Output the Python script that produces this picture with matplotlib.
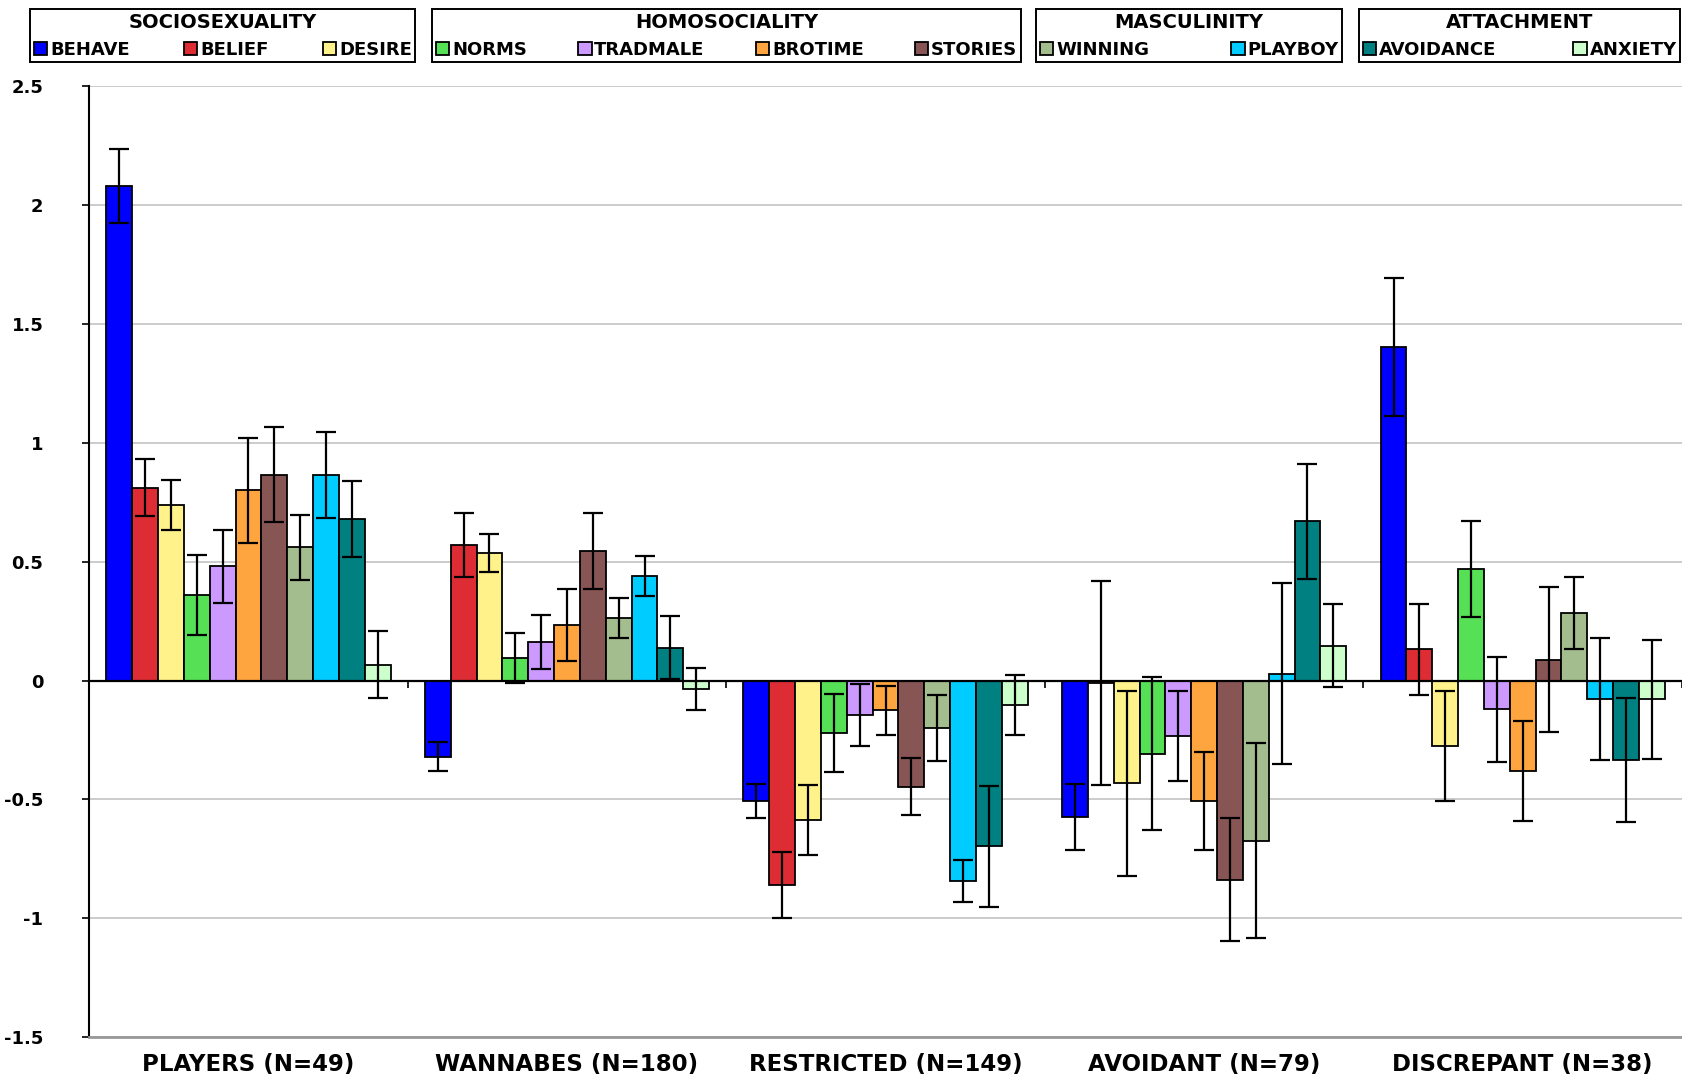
import numpy as np
import matplotlib.pyplot as plt
from matplotlib.patches import Patch

plt.rcParams['font.family'] = ['DejaVu Sans']
plt.rcParams['axes.unicode_minus'] = False

groups = ["PLAYERS (N=49)", "WANNABES (N=180)", "RESTRICTED (N=149)",
          "AVOIDANT (N=79)", "DISCREPANT (N=38)"]
series = ["BEHAVE", "BELIEF", "DESIRE", "NORMS", "TRADMALE", "BROTIME",
          "STORIES", "WINNING", "PLAYBOY", "AVOIDANCE", "ANXIETY"]
colors = ["#0000FF", "#DD2C33", "#FFF28A", "#55E055", "#CC99FF", "#FFA540",
          "#885555", "#A3BD8F", "#00CCFF", "#008080", "#CCFFCC"]

# legend blocks: (title, first series index, last series index + 1)
blocks = [("SOCIOSEXUALITY", 0, 3), ("HOMOSOCIALITY", 3, 7),
          ("MASCULINITY", 7, 9), ("ATTACHMENT", 9, 11)]

# means per group, in series order
players = [2.08, 0.81, 0.74, 0.36, 0.48, 0.80, 0.865, 0.56, 0.865, 0.68, 0.067]
wannabes = [-0.32, 0.57, 0.535, 0.094, 0.162, 0.234, 0.543, 0.263, 0.441, 0.139, -0.036]
restricted = [-0.507, -0.86, -0.587, -0.22, -0.146, -0.125, -0.447, -0.20, -0.843, -0.697, -0.102]
avoidant = [-0.574, -0.01, -0.432, -0.307, -0.234, -0.506, -0.837, -0.674, 0.029, 0.669, 0.147]
discrepant = [1.403, 0.131, -0.275, 0.469, -0.121, -0.379, 0.088, 0.285, -0.078, -0.334, -0.078]

# standard errors
players_err = [0.155, 0.12, 0.105, 0.17, 0.155, 0.22, 0.20, 0.135, 0.18, 0.16, 0.14]
wannabes_err = [0.06, 0.135, 0.08, 0.105, 0.113, 0.15, 0.16, 0.083, 0.084, 0.132, 0.088]
restricted_err = [0.07, 0.14, 0.147, 0.165, 0.13, 0.103, 0.12, 0.138, 0.09, 0.254, 0.125]
avoidant_err = [0.14, 0.43, 0.39, 0.32, 0.19, 0.205, 0.257, 0.41, 0.38, 0.24, 0.176]
discrepant_err = [0.29, 0.19, 0.23, 0.20, 0.22, 0.21, 0.306, 0.152, 0.257, 0.26, 0.25]

means = np.array([players, wannabes, restricted, avoidant, discrepant])
errs = np.array([players_err, wannabes_err, restricted_err, avoidant_err, discrepant_err])

fig = plt.figure(figsize=(16.82, 10.76), dpi=100)
ax = fig.add_axes([0.053, 0.036, 0.947, 0.884])

n = len(series)
w = 1 / (n + 1.33)
x = np.arange(len(groups))
for j in range(n):
    ax.bar(x + (j - (n - 1) / 2) * w, means[:, j], w, yerr=errs[:, j],
           color=colors[j], edgecolor="black", linewidth=1.3, zorder=3,
           error_kw=dict(ecolor="black", elinewidth=1.6, capsize=7, capthick=1.6, zorder=4))

ymin, ymax = -1.5, 2.5
ax.set_ylim(ymin, ymax)
ax.set_xlim(-0.5, len(groups) - 0.5)
yt = np.arange(ymin, ymax + 0.01, 0.5)
ax.set_yticks(yt)
ax.set_yticklabels([f"{v:g}" for v in yt], fontsize=13, fontweight="bold")
ax.tick_params(axis="y", direction="out", length=5, width=1.2, pad=28)
ax.yaxis.grid(True, color="#c8c8c8", linewidth=1.3, zorder=0)
ax.set_axisbelow(True)

ax.set_xticks(x)
ax.set_xticklabels(groups, fontsize=16.5, fontweight="bold")
ax.tick_params(axis="x", length=0, pad=11)

for s in ["top", "right"]:
    ax.spines[s].set_visible(False)
ax.spines["left"].set_linewidth(1.5)
ax.spines["bottom"].set_color("#999999")
ax.spines["bottom"].set_linewidth(2)

# zero line with category tick marks
zero_pos = (0 - ymin) / (ymax - ymin)
zax = ax.secondary_xaxis(zero_pos)
zax.set_xticks(np.arange(-0.5, len(groups), 1.0))
zax.set_xticklabels([])
zax.tick_params(direction="out", length=5, width=1.2)
zax.spines["bottom"].set_linewidth(1.6)
zax.set_zorder(5)

# grouped legends at top
boxes = [(0.018, 0.229), (0.257, 0.350), (0.616, 0.182), (0.808, 0.191)]
for (title, a, b), (bx, bw) in zip(blocks, boxes):
    handles = [Patch(facecolor=colors[k], edgecolor="black", linewidth=1.3) for k in range(a, b)]
    leg = fig.legend(handles, series[a:b], loc="lower left",
                     bbox_to_anchor=(bx, 0.942, bw, 0.049), mode="expand",
                     ncol=b - a, title=title, frameon=True, fancybox=False,
                     edgecolor="black", framealpha=1, borderpad=0.2,
                     handlelength=0.75, handleheight=0.75, handletextpad=0.15,
                     columnspacing=0.6, borderaxespad=0,
                     prop=dict(size=13, weight="bold"),
                     title_fontproperties=dict(size=14, weight="bold"))
    leg.get_frame().set_linewidth(1.4)

fig.savefig("out.png", dpi=100)
